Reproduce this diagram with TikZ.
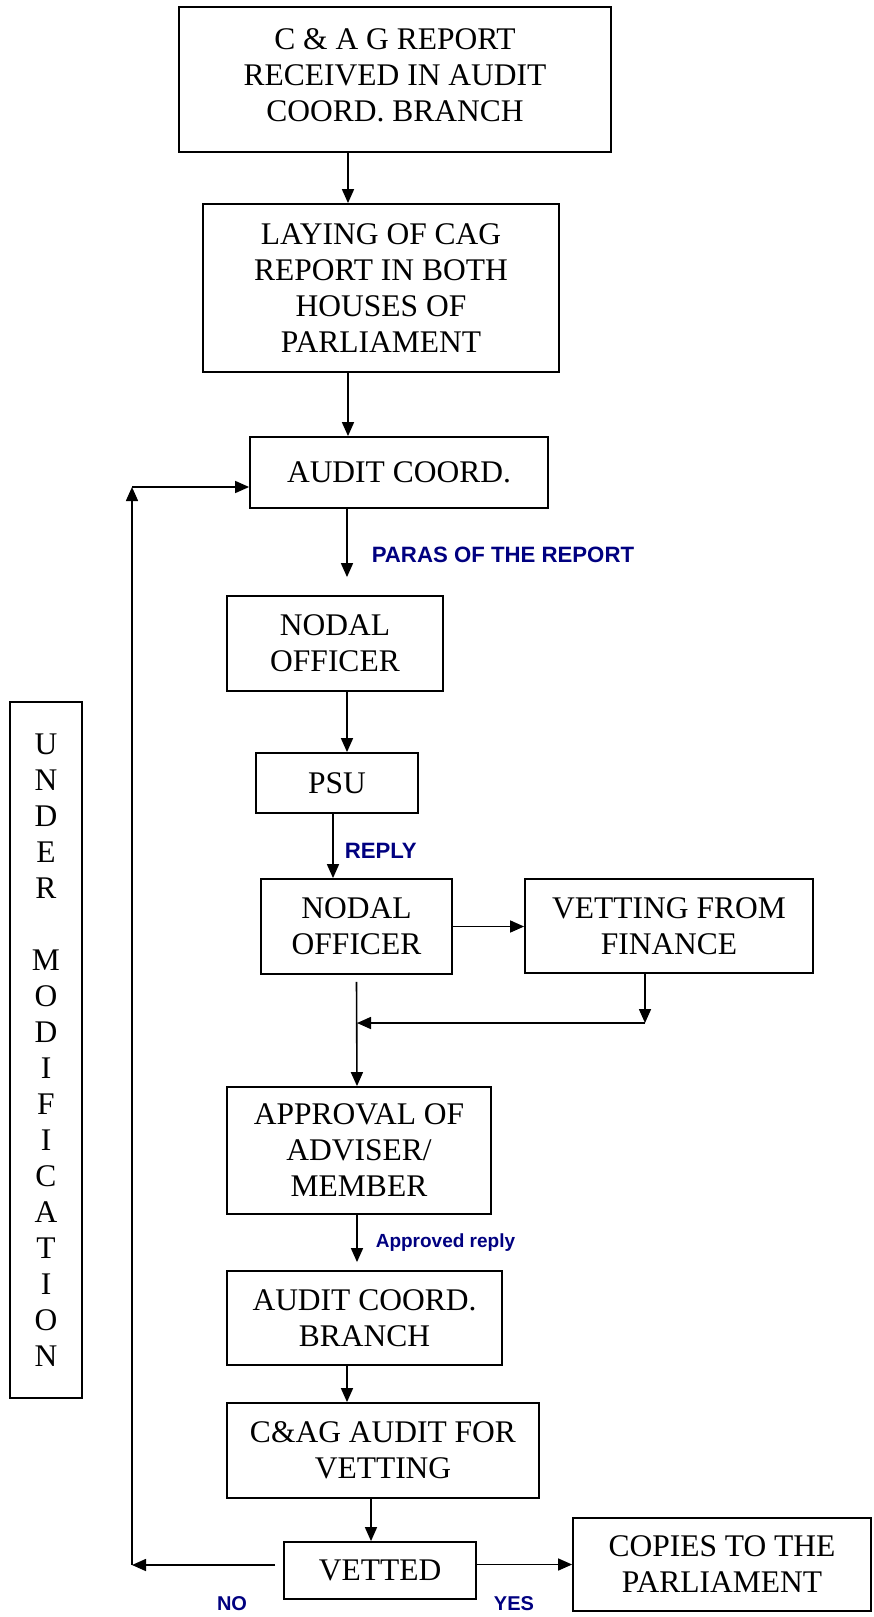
\documentclass[tikz,border=0pt]{standalone}
\usepackage{fontspec}
\setmainfont{Liberation Serif}
\newfontfamily\lblfont{Liberation Sans}
\usetikzlibrary{arrows.meta}
\definecolor{navy}{RGB}{0,0,128}

\begin{document}
\begin{tikzpicture}[x=1pt,y=-1pt,>={Triangle[length=14pt,width=12pt]},line width=1.6pt,
    box/.style 2 args={draw,line width=1.8pt,align=center,inner sep=0pt,
      minimum width=#1pt,minimum height=#2pt,font=\fontsize{31.5}{36}\selectfont},
    lbl/.style={text=navy,inner sep=0pt,font=\lblfont\bfseries\fontsize{22.2}{24}\selectfont}]
      \useasboundingbox (0,0) rectangle (873,1617);
      \node[box={432}{145},text depth=9pt] (report) at (395,79.5) {C \& A G REPORT\\RECEIVED IN AUDIT\\COORD. BRANCH};
      \node[box={356}{168}] (laying) at (381,288) {LAYING OF CAG\\REPORT IN BOTH\\HOUSES OF\\PARLIAMENT};
      \node[box={298}{71}] (audit) at (399,472.5) {AUDIT COORD.};
      \node[box={216}{95}] (nodal) at (335,643.5) {NODAL\\OFFICER};
      \node[box={162}{60}] (psu) at (337,783) {PSU};
      \node[box={191}{95}] (nodalb) at (356.5,926.5) {NODAL\\OFFICER};
      \node[box={288}{94}] (finance) at (669,926) {VETTING FROM\\FINANCE};
      \node[box={264}{127}] (approval) at (359,1150.5) {APPROVAL OF\\ADVISER/\\MEMBER};
      \node[box={275}{94}] (branch) at (364.5,1318) {AUDIT COORD.\\BRANCH};
      \node[box={312}{95}] (cag) at (383,1450.5) {C\&AG AUDIT FOR\\VETTING};
      \node[box={192}{57}] (vetted) at (380,1570.5) {VETTED};
      \node[box={298}{93}] (copies) at (722,1564.5) {COPIES TO THE\\PARLIAMENT};
      \node[box={72}{696}] (undermod) at (46,1050) {U\\N\\D\\E\\R\\~\\M\\O\\D\\I\\F\\I\\C\\A\\T\\I\\O\\N};
      \foreach \from/\to/\sa/\sb in {report/laying/-47/-33,laying/audit/-33/-51,nodal/psu/12/10,
          branch/cag/-17.5/-36,cag/vetted/-12/-9} {
        \draw[->] ([xshift=\sa pt]\from.south) -- ([xshift=\sb pt]\to.north);
      }
      \draw[->] ([xshift=-52pt]audit.south) -- ([xshift=12pt,yshift=18pt]nodal.north);
      \node[lbl,anchor=west] (paras) at (371,555) {PARAS OF THE REPORT};
      \draw[->] ([xshift=-4pt]psu.south) -- ([xshift=-23.5pt]nodalb.north);
      \node[lbl,anchor=west] (reply) at (344,851) {REPLY};
      \draw[->] (nodalb.east) -- (nodalb.east -| finance.west);
      \coordinate (mergeR) at (645,1023);
      \coordinate (mergeL) at (357,1023);
      \draw[->] ([xshift=-24pt]finance.south) -- (mergeR);
      \draw[->] (mergeR) -- (mergeL);
      \draw[->] ([yshift=-7pt]nodalb.south) -- ([xshift=-2pt]approval.north);
      \draw[->] ([xshift=-2pt]approval.south) -- ([xshift=-7.5pt,yshift=8pt]branch.north);
      \node[lbl,anchor=west,font=\lblfont\bfseries\fontsize{19}{22}\selectfont] (approved) at (375,1243) {Approved reply};
      \coordinate (loopB) at (132,1565);
      \coordinate (loopT) at (132,487);
      \draw[->] ([xshift=-8pt,yshift=5.5pt]vetted.west) -- (loopB);
      \draw[->] (loopB) -- (loopT);
      \draw[->] (loopT) -- (audit.west |- loopT);
      \draw[->] (vetted.east |- copies.west) -- (copies.west);
      \node[lbl,font=\lblfont\bfseries\fontsize{20}{22}\selectfont] (no) at (232,1604) {NO};
      \node[lbl,font=\lblfont\bfseries\fontsize{20}{22}\selectfont] (yes) at (514,1604) {YES};
   \end{tikzpicture}
\end{document}
